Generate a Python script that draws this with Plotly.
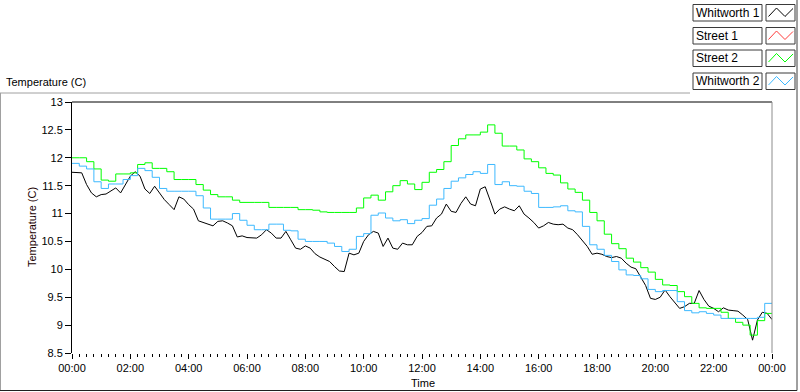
import pandas as pd
import plotly.graph_objects as go

# ---------------- data ----------------
series_names = ["Whitworth 1", "Street 1", "Street 2", "Whitworth 2"]
series_colors = ["#000000", "#ff3b3b", "#00ff00", "#3db9ff"]

# Whitworth 1 : every 10 minutes, 00:00 -> 24:00
whitworth1 = [
    11.74, 11.74, 11.73, 11.52, 11.37, 11.30, 11.34, 11.35, 11.40, 11.46, 11.37, 11.52,
    11.67, 11.75, 11.67, 11.44, 11.36, 11.49, 11.37, 11.25, 11.16, 11.07, 11.30, 11.26,
    11.16, 11.08, 10.87, 10.84, 10.80, 10.78, 10.86, 10.87, 10.83, 10.78, 10.58, 10.60,
    10.57,
    10.56, 10.56, 10.62, 10.71, 10.65, 10.56, 10.56, 10.68, 10.53, 10.38, 10.36, 10.42,
    10.38, 10.28, 10.22, 10.18, 10.14, 10.05, 9.97, 9.96, 10.29, 10.26, 10.29, 10.50,
    10.62, 10.68, 10.65, 10.41, 10.56, 10.38, 10.36, 10.47, 10.44, 10.44, 10.59, 10.66,
    10.77, 10.78, 10.92, 10.99, 11.17, 11.04, 11.02, 11.18, 11.30, 11.17, 11.14, 11.44,
    11.48, 11.24, 10.99, 11.08, 11.12, 11.08, 11.05, 11.14, 10.99, 10.92, 10.84, 10.74,
    10.78, 10.84, 10.81, 10.80, 10.81, 10.74, 10.71, 10.62, 10.51, 10.41, 10.27, 10.29,
    10.27, 10.23, 10.21, 10.23, 10.20, 10.11, 10.04, 10.01, 9.86, 9.71, 9.48, 9.46,
    9.50, 9.63, 9.51, 9.40, 9.30, 9.33, 9.39, 9.39, 9.62, 9.46, 9.34, 9.30,
    9.24, 9.31, 9.27, 9.26, 9.25, 9.18, 9.10, 8.73, 9.09, 9.23, 9.21, 9.10,
]

# Street 1 : no data visible
street1 = []

# Street 2 : every 15 minutes, 00:00 -> 24:00
street2 = [
    12.00, 12.00, 11.93, 11.80, 11.60, 11.58, 11.71, 11.71, 11.73, 11.88, 11.91, 11.81,
    11.81, 11.75, 11.61, 11.61, 11.61, 11.52, 11.42, 11.34, 11.30, 11.30, 11.24, 11.20,
    11.20,
    11.20, 11.20, 11.11, 11.11, 11.11, 11.11, 11.07, 11.07, 11.06, 11.03, 11.02, 11.02,
    11.02, 11.02, 11.10, 11.28, 11.33, 11.24, 11.39, 11.50, 11.59, 11.53, 11.43, 11.56,
    11.74, 11.79, 11.93, 12.22, 12.34, 12.41, 12.41, 12.46, 12.59, 12.44, 12.21, 12.21,
    12.14, 11.98, 11.93, 11.82, 11.72, 11.69, 11.55, 11.44, 11.38, 11.24, 11.02, 10.87,
    10.63, 10.46, 10.37, 10.20, 10.13, 10.03, 9.95, 9.82, 9.72, 9.71, 9.60, 9.51,
    9.39, 9.31, 9.30, 9.30, 9.23, 9.12, 9.05, 9.00, 8.82, 9.08, 9.21, 9.21,
]

# Whitworth 2 : every 15 minutes, 00:00 -> 24:00
whitworth2 = [
    11.90, 11.85, 11.80, 11.57, 11.45, 11.53, 11.53, 11.61, 11.68, 11.81, 11.77, 11.65,
    11.45, 11.40, 11.40, 11.40, 11.40, 11.32, 11.10, 10.90, 10.90, 10.90, 11.00, 10.88,
    10.79,
    10.71, 10.71, 10.81, 10.81, 10.70, 10.69, 10.54, 10.50, 10.50, 10.50, 10.47, 10.41,
    10.32, 10.36, 10.59, 10.64, 10.97, 11.01, 10.92, 10.87, 10.89, 10.82, 10.88, 10.91,
    11.15, 11.26, 11.45, 11.58, 11.64, 11.70, 11.75, 11.72, 11.88, 11.52, 11.57, 11.50,
    11.49, 11.40, 11.36, 11.11, 11.11, 11.12, 11.14, 11.05, 11.03, 10.77, 10.44, 10.36,
    10.25, 10.14, 9.99, 9.90, 9.89, 9.83, 9.64, 9.60, 9.62, 9.62, 9.42, 9.26,
    9.22, 9.24, 9.21, 9.18, 9.12, 9.12, 9.12, 9.12, 9.12, 9.14, 9.39, 9.40,
]

y_range = [8.5, 13.0]
y_step = 0.5
day_start = "2000-01-01 00:00"
day_end = "2000-01-02 00:00"

t10 = pd.date_range(day_start, day_end, freq="10min")
t15 = pd.date_range(day_start, day_end, freq="15min")

FONT = "Liberation Sans, Arial, sans-serif"

fig = go.Figure()
fig.add_trace(go.Scatter(x=t10, y=whitworth1, mode="lines", name=series_names[0],
                         line=dict(color=series_colors[0], width=1)))
fig.add_trace(go.Scatter(x=[], y=street1, mode="lines", name=series_names[1],
                         line=dict(color=series_colors[1], width=1)))
fig.add_trace(go.Scatter(x=t15, y=street2, mode="lines", name=series_names[2],
                         line=dict(color=series_colors[2], width=1, shape="hv")))
fig.add_trace(go.Scatter(x=t15, y=whitworth2, mode="lines", name=series_names[3],
                         line=dict(color=series_colors[3], width=1, shape="hv")))

W, H = 800, 392
L, R, T, B = 72, 28, 102, 39
PW, PH = W - L - R, H - T - B


def px(x):
    return (x - L) / PW


def py(y):
    return (H - B - y) / PH


shapes = [
    # plot frame: top black, right gray
    dict(type="line", xref="paper", yref="paper", x0=0, x1=1, y0=1, y1=1,
         line=dict(color="#000000", width=1)),
    dict(type="line", xref="paper", yref="paper", x0=1, x1=1, y0=0, y1=1,
         line=dict(color="#8c8c8c", width=1)),
    # outer panel frame
    dict(type="line", xref="paper", yref="paper", x0=px(0), x1=px(690), y0=py(93), y1=py(93),
         line=dict(color="#a0a0a0", width=1)),
    dict(type="line", xref="paper", yref="paper", x0=px(0.5), x1=px(0.5), y0=py(93), y1=py(390),
         line=dict(color="#a0a0a0", width=1)),
    dict(type="line", xref="paper", yref="paper", x0=px(0), x1=px(797), y0=py(390.5), y1=py(390.5),
         line=dict(color="#202020", width=1)),
    dict(type="line", xref="paper", yref="paper", x0=px(797), x1=px(797), y0=py(0), y1=py(390.5),
         line=dict(color="#404040", width=1)),
]

annotations = [
    dict(text="Temperature (C)", xref="paper", yref="paper", x=px(4), y=py(82),
         xanchor="left", yanchor="middle", showarrow=False,
         font=dict(family=FONT, size=11, color="#000000")),
    dict(text="Temperature (C)", xref="paper", yref="paper", x=px(32), y=py(227),
         xanchor="center", yanchor="middle", textangle=-90, showarrow=False,
         font=dict(family=FONT, size=11, color="#1a0000")),
    dict(text="Time", xref="paper", yref="paper", x=px(423), y=py(383),
         xanchor="center", yanchor="middle", showarrow=False,
         font=dict(family=FONT, size=11, color="#000000")),
]

row_tops = [4.5, 27.5, 50.0, 73.0]
row_h = 16.5
for name, color, top in zip(series_names, series_colors, row_tops):
    # text box
    shapes.append(dict(type="rect", xref="paper", yref="paper",
                       x0=px(693), x1=px(762), y0=py(top + row_h), y1=py(top),
                       line=dict(color="#3a3a3a", width=1), fillcolor="#ffffff"))
    # sample box
    shapes.append(dict(type="rect", xref="paper", yref="paper",
                       x0=px(766), x1=px(795), y0=py(top + row_h), y1=py(top),
                       line=dict(color="#3a3a3a", width=1), fillcolor="#ffffff"))
    zig = [(768.5, top + 12), (776.5, top + 3.5), (785, top + 12), (793, top + 4)]
    path = "M " + " L ".join(f"{px(a):.5f},{py(b):.5f}" for a, b in zig)
    shapes.append(dict(type="path", xref="paper", yref="paper", path=path,
                       line=dict(color=color, width=1)))
    annotations.append(dict(text=name, xref="paper", yref="paper", x=px(694), y=py(top + row_h / 2),
                            xanchor="left", yanchor="middle", showarrow=False,
                            font=dict(family=FONT, size=12, color="#000000")))

fig.update_layout(
    width=W, height=H,
    margin=dict(l=L, r=R, t=T, b=B, pad=0),
    paper_bgcolor="#ffffff", plot_bgcolor="#ffffff",
    showlegend=False,
    font=dict(family=FONT, size=11, color="#000000"),
    shapes=shapes,
    annotations=annotations,
    xaxis=dict(
        type="date", range=[day_start, day_end],
        tickformat="%H:%M", dtick=2 * 3600 * 1000, tick0=day_start,
        ticks="outside", ticklen=5, tickcolor="#000000", tickwidth=1,
        minor=dict(dtick=15 * 60 * 1000, tick0=day_start, ticks="outside", ticklen=3,
                   tickcolor="#000000", tickwidth=1, showgrid=False),
        showgrid=False, zeroline=False, showline=False,
        tickfont=dict(family=FONT, size=11, color="#000000"),
        fixedrange=True,
    ),
    yaxis=dict(
        range=y_range, dtick=y_step, tick0=y_range[0],
        ticks="outside", ticklen=6, tickcolor="#000000", tickwidth=1,
        showgrid=False, zeroline=False,
        showline=True, linecolor="#000000", linewidth=1,
        tickfont=dict(family=FONT, size=11, color="#000000"),
        fixedrange=True,
    ),
)

fig.write_html(
    "out.html",
    config={"displayModeBar": False},
    post_script="document.body.style.margin='0';document.body.style.overflow='hidden';",
)
